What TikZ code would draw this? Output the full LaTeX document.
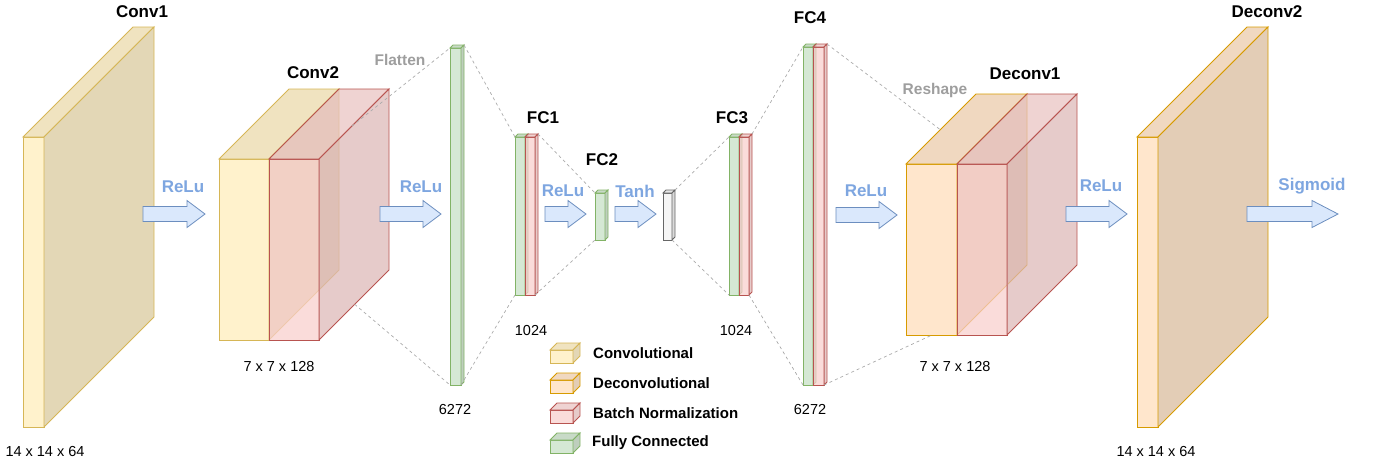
\documentclass[tikz,border=0pt]{standalone}
\usepackage{fontspec}
\setmainfont{Liberation Sans}
\usetikzlibrary{calc, positioning}

\definecolor{convfill}{HTML}{FFF2CC}
\definecolor{convdraw}{HTML}{D6B656}
\definecolor{deconvfill}{HTML}{FFE6CC}
\definecolor{deconvdraw}{HTML}{D79B00}
\definecolor{bnfill}{HTML}{F8CECC}
\definecolor{bndraw}{HTML}{B85450}
\definecolor{fcfill}{HTML}{D5E8D4}
\definecolor{fcdraw}{HTML}{82B366}
\definecolor{latfill}{HTML}{F5F5F5}
\definecolor{latdraw}{HTML}{666666}
\definecolor{arrfill}{HTML}{DAE8FC}
\definecolor{arrdraw}{HTML}{6C8EBF}
\definecolor{acttext}{HTML}{7EA6E0}
\definecolor{hinttext}{HTML}{9E9E9E}
\definecolor{linegray}{HTML}{ABABAB}

\tikzset{
    layer/.style={line width=0.9pt, line join=miter},
    convbox/.style={layer, draw=convdraw},
    deconvbox/.style={layer, draw=deconvdraw},
    bnbox/.style={layer, draw=bndraw, fill opacity=0.72},
    fcbox/.style={layer, draw=fcdraw},
    latbox/.style={layer, draw=latdraw},
    flowarrow/.style={fill=arrfill, draw=arrdraw, line width=0.8pt, line join=miter},
    link/.style={draw=linegray, line width=0.7pt, dash pattern=on 3pt off 3pt}
}

% cube: name, x, y, width, height, depth, fill colour, style
\newcommand{\layercube}[8]{%
    \coordinate (#1-ftl) at (#2,#3);
    \coordinate (#1-ftr) at (#2+#4,#3);
    \coordinate (#1-fbl) at (#2,#3+#5);
    \coordinate (#1-fbr) at (#2+#4,#3+#5);
    \coordinate (#1-btl) at (#2+#6,#3-#6);
    \coordinate (#1-btr) at (#2+#4+#6,#3-#6);
    \coordinate (#1-bbr) at (#2+#4+#6,#3+#5-#6);
    \path[#8, fill=#7] (#1-ftl) rectangle (#1-fbr);
    \path[#8, fill=#7!94!black] (#1-ftl) -- (#1-btl) -- (#1-btr) -- (#1-ftr) -- cycle;
    \path[#8, fill=#7!89!black] (#1-ftr) -- (#1-btr) -- (#1-bbr) -- (#1-fbr) -- cycle;
}

% block arrow: name, x start, x end, y, head length
\newcommand{\blockarrow}[5]{%
    \coordinate (#1) at ({(#2+#3)/2},#4);
    \path[flowarrow] (#2,#4-7.5) -- (#3-#5,#4-7.5) -- (#3-#5,#4-13.5) -- (#3,#4)
        -- (#3-#5,#4+13.5) -- (#3-#5,#4+7.5) -- (#2,#4+7.5) -- cycle;
}

\begin{document}
\begin{tikzpicture}[
        x=1pt, y=-1pt,
        title/.style={font=\fontsize{17}{20}\selectfont\bfseries, inner sep=0pt},
        act/.style={font=\fontsize{17}{20}\selectfont\bfseries, text=acttext, inner sep=0pt},
        hint/.style={font=\fontsize{15.5}{18}\selectfont\bfseries, text=hinttext, inner sep=0pt},
        dims/.style={font=\fontsize{14.5}{17}\selectfont, inner sep=0pt},
        legendtext/.style={font=\fontsize{15}{18}\selectfont\bfseries, anchor=west, inner sep=0pt}
        ]

        \useasboundingbox (0,0) rectangle (1374,464);

        % --- ENCODER: CONV ---
        \layercube{conv1}{23}{137}{21}{290}{110}{convfill}{convbox}
        \layercube{conv2y}{219}{159}{50}{181}{70}{convfill}{convbox}
        \layercube{conv2r}{269}{159}{50}{181}{70}{bnfill}{bnbox}

        % --- FULLY CONNECTED ---
        \layercube{flat}{450}{48}{11}{337}{3}{fcfill}{fcbox}
        \layercube{fc1g}{515}{137}{10}{158}{3}{fcfill}{fcbox}
        \layercube{fc1r}{525}{137}{10}{158}{3}{bnfill}{bnbox}
        \layercube{fc2}{595}{193}{10}{47}{3}{fcfill}{fcbox}
        \layercube{lat}{663}{193}{9}{47}{3}{latfill}{latbox}
        \layercube{fc3g}{729}{137}{10}{158}{3}{fcfill}{fcbox}
        \layercube{fc3r}{739}{137}{10}{158}{3}{bnfill}{bnbox}
        \layercube{fc4g}{803}{47}{10}{338}{3}{fcfill}{fcbox}
        \layercube{fc4r}{813}{47}{11}{338}{3}{bnfill}{bnbox}

        % --- DECODER: DECONV ---
        \layercube{dc1o}{906}{164}{51}{171}{70}{deconvfill}{deconvbox}
        \layercube{dc1r}{957}{164}{50}{171}{70}{bnfill}{bnbox}
        \layercube{dc2}{1137}{137}{21}{290}{110}{deconvfill}{deconvbox}

        % --- DASHED LINKS ---
        \draw[link] ($(conv2r-ftr)!0.47!(conv2r-btr)$) -- (flat-ftl);
        \draw[link] ($(conv2r-fbr)!0.51!(conv2r-bbr)$) -- (flat-fbl);
        \draw[link] (flat-btr) -- (fc1g-ftl);
        \draw[link] (flat-fbr) -- (fc1g-fbl);
        \draw[link] (fc1r-btr) -- (fc2-ftl);
        \draw[link] (fc1r-fbr) -- (fc2-fbl);
        \draw[link] (lat-btr) -- (fc3g-ftl);
        \draw[link] (lat-fbr) -- (fc3g-fbl);
        \draw[link] (fc3r-btr) -- (fc4g-ftl);
        \draw[link] (fc3r-fbr) -- (fc4g-fbl);
        \draw[link] (fc4r-btr) -- ($(dc1o-ftl)!0.49!(dc1o-btl)$);
        \draw[link] (fc4r-fbr) -- ($(dc1o-fbl)!0.51!(dc1o-fbr)$);

        % --- ACTIVATIONS ---
        \blockarrow{a1}{143}{205}{214}{18}
        \blockarrow{a2}{380}{441}{214}{18}
        \blockarrow{a3}{545}{586}{214}{18}
        \blockarrow{a4}{615}{656}{214}{18}
        \blockarrow{a5}{836}{897}{215}{18}
        \blockarrow{a6}{1066}{1127}{214}{18}
        \blockarrow{a7}{1247}{1338}{214}{26}

        \node[act] (relu1) at (183,187) {ReLu};
        \node[act] (relu2) at (421,187) {ReLu};
        \node[act] (relu3) at (563,191) {ReLu};
        \node[act] (tanh) at (635,191) {Tanh};
        \node[act] (relu4) at (866,191) {ReLu};
        \node[act] (relu5) at (1101,186) {ReLu};
        \node[act] (sigm) at (1312,186) {Sigmoid};

        % --- TITLES ---
        \node[title] (t-conv1) at (142,12) {Conv1};
        \node[title] (t-conv2) at (313,73) {Conv2};
        \node[title] (t-fc1) at (543,118) {FC1};
        \node[title] (t-fc2) at (602,160) {FC2};
        \node[title] (t-fc3) at (732,118) {FC3};
        \node[title] (t-fc4) at (810,18) {FC4};
        \node[title] (t-dc1) at (1025,74) {Deconv1};
        \node[title] (t-dc2) at (1267,12) {Deconv2};

        \node[hint] (flatten) at (400,60) {Flatten};
        \node[hint] (reshape) at (935,90) {Reshape};

        % --- SIZES ---
        \node[dims] (d-conv1) at (45,452) {14 x 14 x 64};
        \node[dims] (d-conv2) at (279,367) {7 x 7 x 128};
        \node[dims] (d-flat) at (455,410) {6272};
        \node[dims] (d-fc1) at (531,331) {1024};
        \node[dims] (d-fc3) at (736,331) {1024};
        \node[dims] (d-fc4) at (810,410) {6272};
        \node[dims] (d-dc1) at (955,367) {7 x 7 x 128};
        \node[dims] (d-dc2) at (1156,452) {14 x 14 x 64};

        % --- LEGEND ---
        \layercube{lg1}{550}{350}{23}{13}{7}{convfill}{convbox}
        \layercube{lg2}{550}{380}{23}{13}{7}{deconvfill}{deconvbox}
        \layercube{lg3}{550}{410}{23}{13}{7}{bnfill}{bnbox}
        \layercube{lg4}{550}{440}{23}{13}{7}{fcfill}{fcbox}
        \node[legendtext] (l-conv) at (593,353) {Convolutional};
        \node[legendtext] (l-deconv) at (593,383) {Deconvolutional};
        \node[legendtext] (l-bn) at (593,413) {Batch Normalization};
        \node[legendtext] (l-fc) at (592,443) {Fully Connected};

\end{tikzpicture}
\end{document}
